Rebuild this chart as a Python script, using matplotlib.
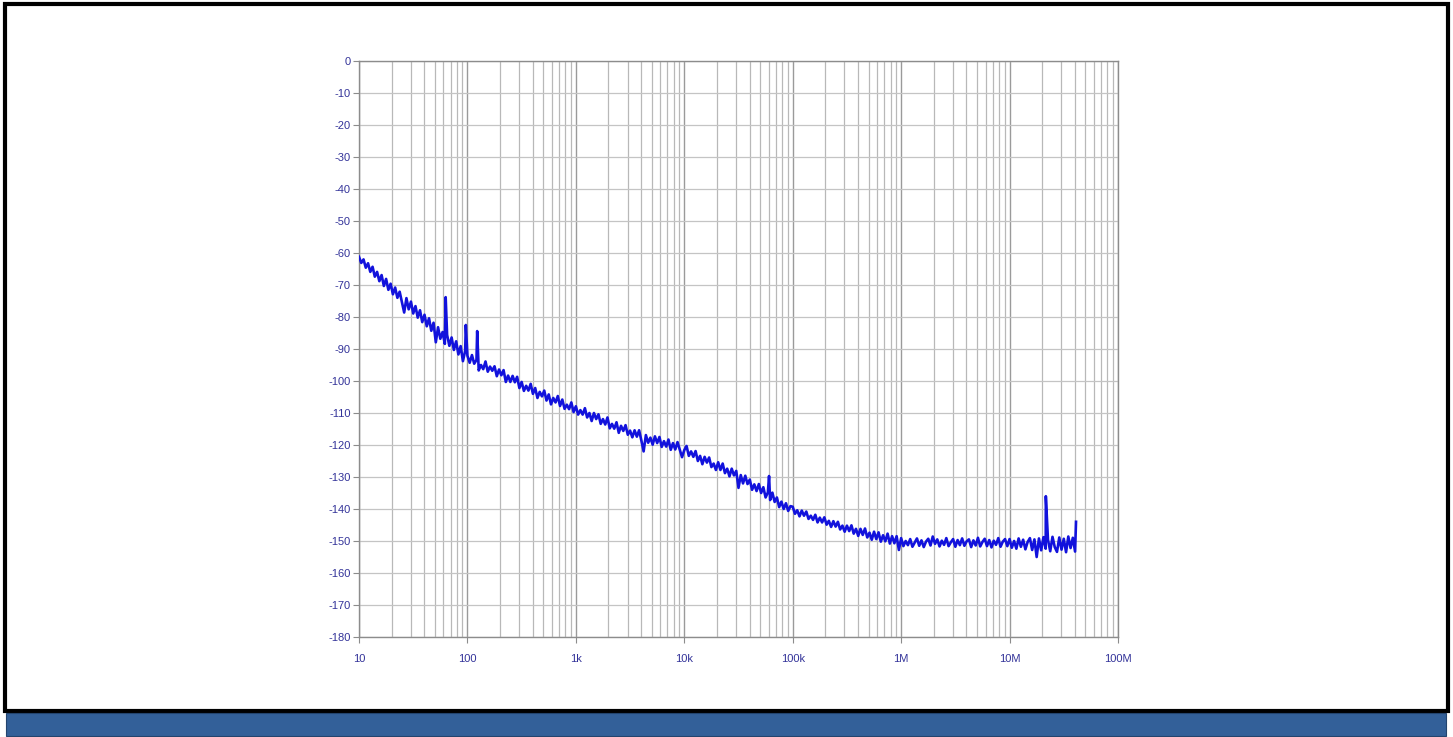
import matplotlib
matplotlib.use("Agg")
import matplotlib.pyplot as plt
from matplotlib.patches import Rectangle
from matplotlib.ticker import FixedLocator, NullFormatter

# ---------------- data ----------------
# sample positions inside one decade (multiplier of the decade start)
mantissa = [1.000, 1.049, 1.101, 1.155, 1.212, 1.271, 1.334, 1.399, 1.468, 1.540,
            1.616, 1.695, 1.778, 1.866, 1.957, 2.054, 2.154, 2.260, 2.371, 2.488,
            2.610, 2.738, 2.873, 3.014, 3.162, 3.318, 3.481, 3.652, 3.831, 4.019,
            4.217, 4.424, 4.642, 4.870, 5.109, 5.360, 5.623, 5.900, 6.190, 6.494,
            6.813, 7.148, 7.499, 7.868, 8.254, 8.660, 9.085, 9.532]

# noise level (dB), one list per decade
level_10hz = [-61.2, -63.1, -62.0, -64.6, -63.2, -65.9, -64.3, -67.4, -65.9, -68.8,
              -66.9, -70.3, -68.1, -71.5, -69.6, -72.9, -70.8, -74.0, -72.1, -75.3,
              -78.6, -74.1, -77.6, -75.2, -78.9, -76.6, -80.2, -77.9, -81.6, -79.3,
              -82.9, -80.4, -84.3, -81.8, -87.9, -83.2, -86.8, -84.7, -88.4, -85.6,
              -89.0, -86.4, -90.3, -87.6, -91.7, -89.1, -93.8, -90.6]
level_100hz = [-92.1, -94.3, -91.9, -94.6, -93.4, -96.7, -95.0, -96.3, -93.9, -97.1,
               -95.5, -96.8, -95.4, -98.5, -96.4, -98.2, -96.6, -100.3, -98.3, -100.3,
               -98.4, -100.4, -98.7, -102.2, -100.3, -103.1, -101.5, -103.0, -100.9, -104.0,
               -102.2, -105.3, -103.4, -104.8, -103.0, -106.1, -104.2, -107.3, -105.3, -106.7,
               -104.7, -107.8, -105.8, -108.7, -107.4, -108.8, -106.7, -109.7]
level_1khz = [-107.9, -110.5, -109.1, -110.5, -108.5, -111.4, -110.0, -112.5, -110.0, -111.9,
              -110.4, -113.4, -111.9, -113.6, -111.4, -114.8, -113.4, -114.9, -112.9, -116.2,
              -114.0, -115.6, -113.8, -116.8, -115.5, -117.6, -115.4, -117.4, -115.4, -118.6,
              -122.0, -116.9, -119.3, -117.7, -119.9, -117.3, -119.4, -117.5, -120.6, -118.8,
              -120.5, -118.3, -121.5, -119.4, -121.4, -119.1, -121.4, -123.8]
level_10khz = [-121.6, -120.3, -123.4, -122.0, -123.7, -121.9, -125.0, -123.4, -126.0, -123.7,
               -125.5, -123.9, -126.9, -125.8, -127.8, -125.4, -127.8, -125.8, -128.8, -127.4,
               -129.8, -127.4, -129.5, -128.1, -133.4, -129.4, -132.0, -129.6, -132.2, -130.8,
               -134.0, -132.3, -134.4, -132.2, -135.0, -133.2, -136.4, -134.8, -137.2, -134.9,
               -137.8, -136.4, -139.4, -137.7, -140.0, -138.2, -140.6, -139.1]
level_100khz = [-139.3, -141.5, -140.4, -142.3, -140.5, -142.1, -140.8, -143.1, -142.1, -143.4,
                -141.8, -144.2, -142.7, -144.2, -142.6, -144.9, -143.7, -145.6, -143.8, -145.5,
                -144.0, -146.4, -145.2, -147.1, -145.2, -146.9, -145.1, -147.7, -146.2, -148.4,
                -146.2, -148.1, -146.1, -148.9, -147.4, -149.6, -147.1, -149.4, -147.3, -150.2,
                -148.2, -150.1, -147.7, -150.8, -148.5, -150.7, -148.5, -152.8]
level_1mhz = [-149.1, -151.6, -150.0, -151.3, -149.4, -151.8, -150.5, -149.2, -151.5, -149.8,
              -151.9, -150.2, -149.3, -151.4, -148.6, -150.9, -149.5, -151.7, -149.9, -151.2,
              -149.1, -151.6, -150.4, -149.4, -151.8, -149.7, -151.3, -149.2, -151.5, -150.1,
              -149.5, -151.9, -149.8, -151.4, -149.0, -151.7, -150.3, -149.3, -151.6, -149.7,
              -152.0, -149.9, -151.2, -149.1, -151.8, -150.2, -149.4, -151.6]
level_10mhz = [-149.4, -152.1, -150.0, -152.4, -149.2, -151.8, -149.6, -152.6, -150.3, -149.1,
               -152.8, -149.5, -155.0, -149.2, -152.9, -148.8, -152.4, -149.6, -153.2, -148.7,
               -151.9, -153.4, -148.9, -152.7, -149.3, -153.5, -148.6, -152.2, -149.0, -153.3]

decade_start_hz = [10, 100, 1e3, 1e4, 1e5, 1e6, 1e7]

# narrow spurs (mains hum, 60 kHz, 21.6 MHz) and the final point of the sweep
spur_freq_hz = [63, 96.6, 123, 60500, 21600000, 41000000]
spur_level_db = [-73.8, -82.5, -84.4, -129.7, -136.0, -144.0]

x_ticks = [10, 100, 1e3, 1e4, 1e5, 1e6, 1e7, 1e8]
x_tick_labels = ["10", "100", "1k", "10k", "100k", "1M", "10M", "100M"]
y_ticks = list(range(0, -190, -10))
y_tick_labels = [str(v) for v in y_ticks]

# ---------------- build trace ----------------
levels_by_decade = [level_10hz, level_100hz, level_1khz, level_10khz,
                    level_100khz, level_1mhz, level_10mhz]
pairs = []
for dec, lv in zip(decade_start_hz, levels_by_decade):
    for m, v in zip(mantissa, lv):
        pairs.append((dec * m, v))
pairs += list(zip(spur_freq_hz, spur_level_db))
pairs.sort(key=lambda p: p[0])
trace_f = [p[0] for p in pairs]
trace_v = [p[1] for p in pairs]

# ---------------- figure ----------------
W, H = 1453, 737
fig = plt.figure(figsize=(W / 100, H / 100), dpi=100)
fig.patch.set_facecolor("white")

def fx(px):
    return px / W

def fy(py):
    return 1 - py / H

# outer black frame
fig.patches.append(Rectangle((fx(4.5), fy(711)), fx(1447.5) - fx(4.5), fy(3.5) - fy(711),
                             transform=fig.transFigure, fill=False,
                             edgecolor="black", linewidth=3.0, zorder=0))
# blue band at bottom
fig.patches.append(Rectangle((fx(6), fy(735.5)), fx(1445.5) - fx(6), fy(712.5) - fy(735.5),
                             transform=fig.transFigure, facecolor="#336099",
                             edgecolor="#23446e", linewidth=0.8, zorder=0))

ax = fig.add_axes([fx(359), fy(637), fx(1118) - fx(359), fy(61) - fy(637)])
ax.set_xscale("log")
ax.set_xlim(10, 1e8)
ax.set_ylim(-180, 0)

ax.plot(trace_f, trace_v, color="#1212dc", linewidth=1.9, zorder=3)

label_color = "#333399"
ax.set_xticks(x_ticks)
ax.set_xticklabels(x_tick_labels)
ax.set_yticks(y_ticks)
ax.set_yticklabels(y_tick_labels)

minor = []
for dec in decade_start_hz:
    for m in range(2, 10):
        minor.append(dec * m)
ax.xaxis.set_minor_locator(FixedLocator(minor))
ax.xaxis.set_minor_formatter(NullFormatter())

ax.grid(True, which="major", axis="x", color="#9a9a9a", linewidth=1.0, zorder=1)
ax.grid(True, which="minor", axis="x", color="#b8b8b8", linewidth=0.9, zorder=1)
ax.grid(True, which="major", axis="y", color="#c4c4c4", linewidth=0.9, zorder=1)

for s in ax.spines.values():
    s.set_color("#8c8c8c")
    s.set_linewidth(1.0)

ax.tick_params(axis="both", which="major", direction="out", length=4, width=0.8,
               color="#8c8c8c", labelcolor=label_color, labelsize=8)
ax.tick_params(axis="x", which="major", pad=8)
ax.tick_params(axis="y", which="major", pad=2)
ax.tick_params(axis="x", which="minor", length=0)
for lab in ax.get_xticklabels() + ax.get_yticklabels():
    lab.set_fontfamily(["Liberation Sans", "DejaVu Sans"])

fig.savefig("out.png", dpi=100, facecolor="white")
